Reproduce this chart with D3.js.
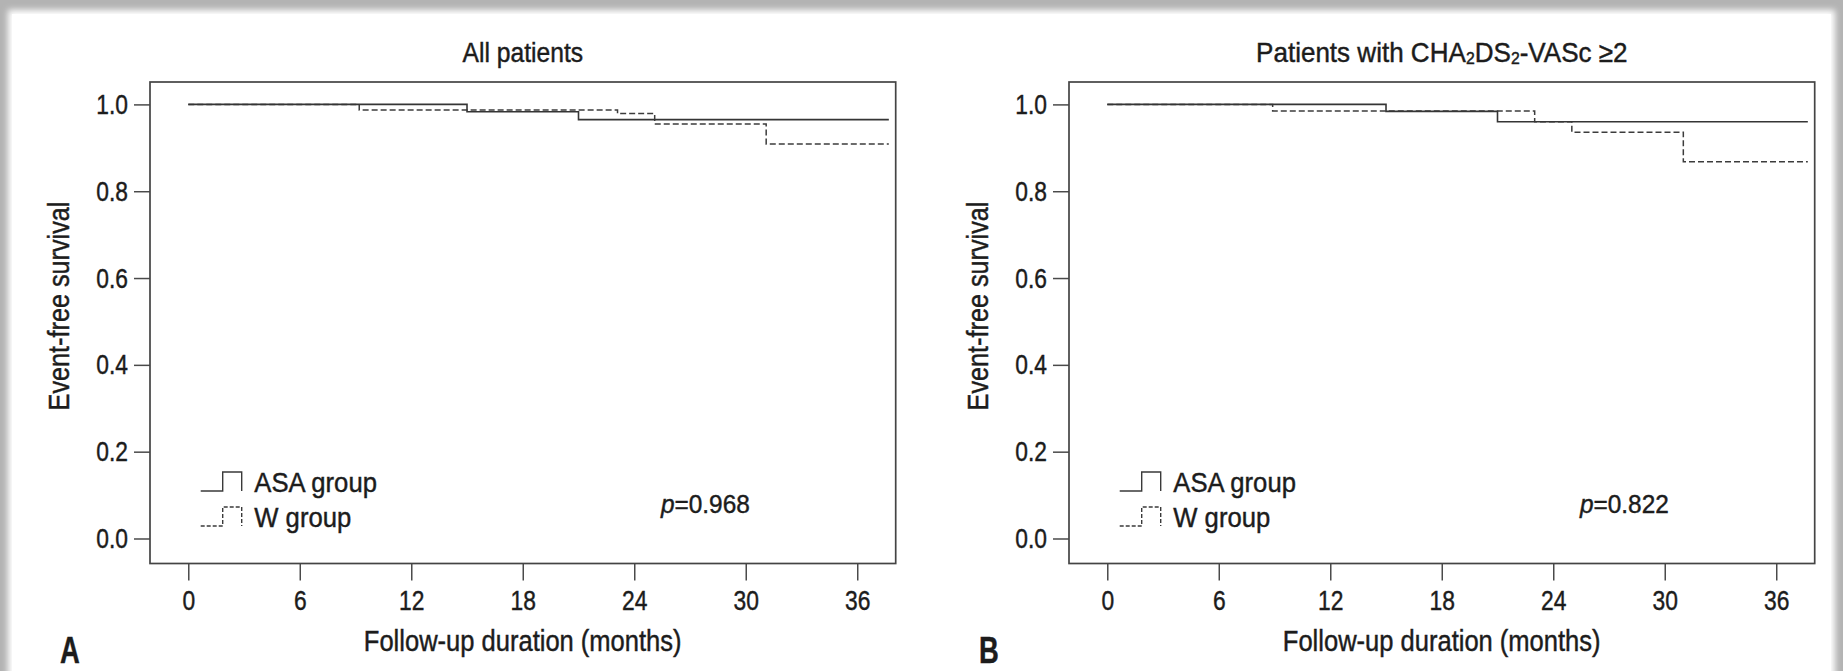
<!DOCTYPE html>
<html>
<head>
<meta charset="utf-8">
<script src="https://cdn.jsdelivr.net/npm/d3@7"></script>
<style>
  html, body { margin: 0; padding: 0; background: #fff; }
  svg { display: block; }
  text { font-family: "Liberation Sans", Arial, sans-serif; fill: #1c1c1c; stroke: #1c1c1c; stroke-width: 0.45px; }
</style>
</head>
<body>
<svg id="fig" width="1843" height="671"></svg>
<script>
// Axis ticks
const monthTicks = [0, 6, 12, 18, 24, 30, 36];
const survivalTicks = [0, 0.2, 0.4, 0.6, 0.8, 1.0];
const followUpMax = 37.7;

// Kaplan-Meier curves: event times (months) and survival after each drop
const asaAllTimes = [0, 15.0, 21.0];
const asaAllSurvival = [1.0, 0.983, 0.965];
const wAllTimes = [0, 9.2, 23.1, 25.1, 31.1];
const wAllSurvival = [1.0, 0.987, 0.979, 0.955, 0.909];

const asaHighTimes = [0, 15.0, 21.0];
const asaHighSurvival = [1.0, 0.984, 0.960];
const wHighTimes = [0, 8.9, 23.0, 25.0, 31.0];
const wHighSurvival = [1.0, 0.985, 0.960, 0.936, 0.868];

const groupNames = ["ASA group", "W group"];
const panelLetters = ["A", "B"];
const pValues = ["0.968", "0.822"];
// title pieces: [text, isSubscript]
const panelTitles = [
  [["All patients", false]],
  [["Patients with CHA", false], ["2", true], ["DS", false], ["2", true], ["-VASc \u22652", false]]
];
const xTitle = "Follow-up duration (months)";
const yTitle = "Event-free survival";

const panels = [
  { asa: [asaAllTimes, asaAllSurvival], w: [wAllTimes, wAllSurvival], squeeze: 0.88 },
  { asa: [asaHighTimes, asaHighSurvival], w: [wHighTimes, wHighSurvival], squeeze: 0.93 }
];

const W = 1843, H = 671;
const svg = d3.select("#fig");

// squeeze a text horizontally to imitate a condensed typeface
function condense(sel, factor) {
  sel.each(function () {
    const w = this.getComputedTextLength();
    d3.select(this).attr("textLength", (w * factor).toFixed(1)).attr("lengthAdjust", "spacingAndGlyphs");
  });
}

// page card with soft grey edge
const defs = svg.append("defs");
defs.append("filter").attr("id", "soft").attr("x", "-5%").attr("y", "-5%").attr("width", "110%").attr("height", "110%")
  .append("feGaussianBlur").attr("stdDeviation", 3);
svg.append("rect").attr("width", W).attr("height", H).attr("fill", "#b3b3b3");
svg.append("rect").attr("x", 8).attr("y", 10).attr("width", W - 16).attr("height", H + 40)
  .attr("fill", "#fff").attr("filter", "url(#soft)");
svg.append("rect").attr("x", 12).attr("y", 14).attr("width", W - 24).attr("height", H)
  .attr("fill", "#fff");

const frame = { left: 150, top: 82, width: 745.7, height: 481.5 };
const panelShift = 919;

const x = d3.scaleLinear().domain([-2.06, 38.07]).range([0, frame.width]);
const y = d3.scaleLinear().domain([-0.0576, 1.0516]).range([frame.height, 0]);

const stepLine = d3.line()
  .x(d => x(d[0]))
  .y(d => y(d[1]))
  .curve(d3.curveStepAfter);

function curvePoints(times, surv) {
  const pts = times.map((t, i) => [t, surv[i]]);
  pts.push([followUpMax, surv[surv.length - 1]]);
  return pts;
}

panels.forEach((p, i) => {
  const g = svg.append("g")
    .attr("transform", `translate(${frame.left + i * panelShift},${frame.top})`);

  // y axis ticks
  const yAxis = g.append("g")
    .call(d3.axisLeft(y).tickValues(survivalTicks).tickFormat(d3.format(".1f")).tickSize(16).tickPadding(6));
  // x axis ticks
  const xAxis = g.append("g")
    .attr("transform", `translate(0,${frame.height})`)
    .call(d3.axisBottom(x).tickValues(monthTicks).tickSize(17).tickPadding(9));
  [xAxis, yAxis].forEach(a => {
    a.attr("font-family", null).attr("font-size", null);
    a.select(".domain").remove();
    a.selectAll(".tick line").attr("stroke", "#4a4a4a").attr("stroke-width", 1.5);
    a.selectAll(".tick text").attr("font-size", 28.5).attr("fill", "#1c1c1c");
    condense(a.selectAll(".tick text"), 0.8);
  });

  // plot frame
  g.append("rect")
    .attr("width", frame.width).attr("height", frame.height)
    .attr("fill", "none").attr("stroke", "#444").attr("stroke-width", 1.7);

  // survival curves
  g.append("path")
    .datum(curvePoints(p.w[0], p.w[1]))
    .attr("d", stepLine)
    .attr("fill", "none").attr("stroke", "#3c3c3c").attr("stroke-width", 1.5)
    .attr("stroke-dasharray", "6,3");
  g.append("path")
    .datum(curvePoints(p.asa[0], p.asa[1]))
    .attr("d", stepLine)
    .attr("fill", "none").attr("stroke", "#353535").attr("stroke-width", 1.6);

  // legend
  const legendRows = [
    { name: groupNames[0], base: 409, top: 390, dash: null },
    { name: groupNames[1], base: 444, top: 425, dash: "4,2" }
  ];
  legendRows.forEach(r => {
    g.append("path")
      .attr("d", `M50.7,${r.base}H72.7V${r.top}H91.7V${r.base}`)
      .attr("fill", "none").attr("stroke", "#3a3a3a").attr("stroke-width", 1.4)
      .attr("stroke-dasharray", r.dash);
    const lt = g.append("text")
      .attr("x", 104.3).attr("y", r.base + 0.5)
      .attr("font-size", 28.5)
      .text(r.name);
    condense(lt, 0.9);
  });

  // p value
  const pt = g.append("text").attr("x", 511).attr("y", 431.3).attr("font-size", 26.5);
  pt.append("tspan").attr("font-style", "italic").text("p");
  pt.append("tspan").text("=" + pValues[i]);
  condense(pt, 0.92);

  // panel title: each piece is its own text, squeezed and laid out left to right, centred
  const pieces = panelTitles[i].map(([s, sub]) => {
    const holder = g.append("g");
    const t = holder.append("text")
      .attr("x", 0).attr("y", 0)
      .attr("font-size", sub ? 17 : 28)
      .text(s);
    const w = t.node().getComputedTextLength() * p.squeeze;
    return { holder, w, dy: sub ? -18.5 : -20 };
  });
  const total = d3.sum(pieces, d => d.w);
  let cursor = frame.width / 2 - total / 2;
  pieces.forEach(d => {
    d.holder.attr("transform", `translate(${cursor.toFixed(1)},${d.dy}) scale(${p.squeeze},1)`);
    cursor += d.w;
  });

  // axis titles
  const xt = g.append("text")
    .attr("x", 372.7).attr("y", 569)
    .attr("text-anchor", "middle").attr("font-size", 29)
    .text(xTitle);
  condense(xt, 0.88);
  const yt = g.append("text")
    .attr("transform", "translate(-81,224) rotate(-90)")
    .attr("text-anchor", "middle").attr("font-size", 29)
    .text(yTitle);
  condense(yt, 0.87);

  // panel letter
  const pl = g.append("text")
    .attr("x", -90).attr("y", 581)
    .attr("font-size", 37).attr("font-weight", "bold")
    .text(panelLetters[i]);
  condense(pl, 0.74);
});
</script>
</body>
</html>
